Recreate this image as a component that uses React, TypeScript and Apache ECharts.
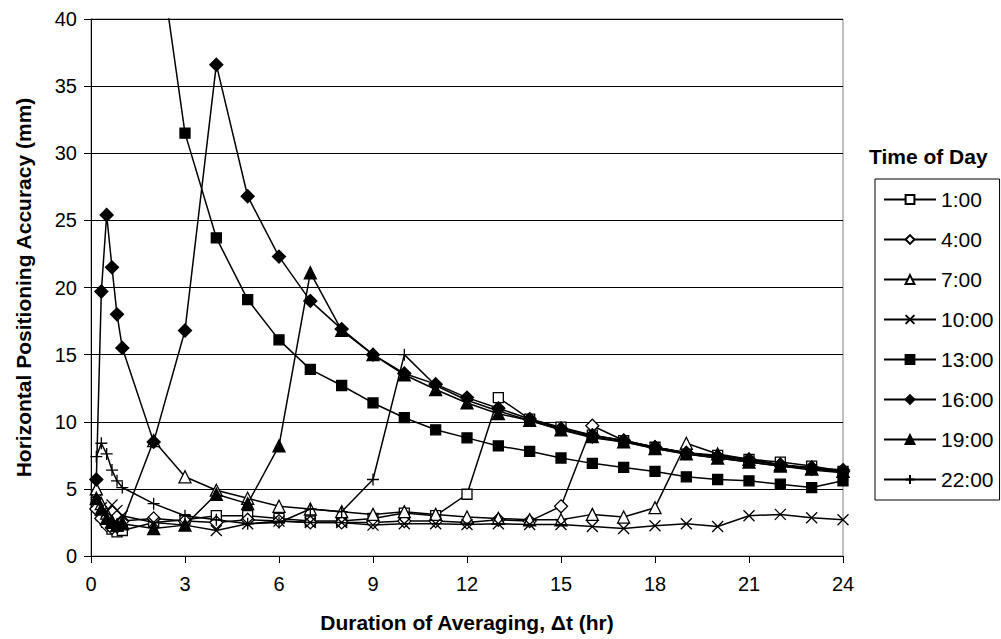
import React, { useEffect, useRef } from "react";
import * as echarts from "echarts";

const X_HOURS = [0.17, 0.33, 0.5, 0.67, 0.83, 1, 2, 3, 4, 5, 6, 7, 8, 9, 10, 11, 12, 13, 14, 15, 16, 17, 18, 19, 20, 21, 22, 23, 24];

const SERIES_NAMES = ["1:00", "4:00", "7:00", "10:00", "13:00", "16:00", "19:00", "22:00"];

const S_0100 = [4.0, 3.0, 2.5, 2.0, 1.8, 1.9, 2.5, 2.7, 3.0, 3.0, 2.8, 2.6, 2.6, 2.8, 3.2, 3.0, 4.6, 11.8, 10.2, 9.6, 9.0, 8.6, 8.1, 7.7, 7.5, 7.2, 7.0, 6.7, 6.3];
const S_0400 = [3.5, 2.8, 2.3, 2.1, 2.2, 2.6, 2.8, 2.6, 2.5, 2.7, 2.6, 2.5, 2.5, 2.5, 2.6, 2.6, 2.5, 2.7, 2.6, 3.7, 9.7, 8.6, 8.1, 7.7, 7.4, 7.1, 6.8, 6.5, 6.3];
const S_0700 = [5.0, 3.9, 3.2, 2.6, 2.3, 2.5, 8.6, 5.9, 4.9, 4.3, 3.7, 3.5, 3.3, 3.1, 3.3, 3.1, 2.9, 2.8, 2.7, 2.7, 3.1, 2.9, 3.6, 8.4, 7.6, 7.2, 6.8, 6.5, 6.3];
const S_1000 = [4.2, 3.6, 3.3, 3.8, 3.4, 3.0, 2.5, 2.3, 1.9, 2.4, 2.6, 2.5, 2.5, 2.3, 2.4, 2.4, 2.35, 2.4, 2.35, 2.35, 2.2, 2.05, 2.25, 2.4, 2.2, 3.0, 3.1, 2.85, 2.7];
const S_1300 = [null, null, null, null, null, null, 48, 31.5, 23.7, 19.1, 16.1, 13.9, 12.7, 11.4, 10.3, 9.4, 8.8, 8.2, 7.8, 7.3, 6.9, 6.6, 6.3, 5.9, 5.7, 5.6, 5.35, 5.1, 5.6];
const S_1600 = [5.7, 19.7, 25.4, 21.5, 18.0, 15.5, 8.5, 16.8, 36.6, 26.8, 22.3, 19.0, 16.9, 15.0, 13.6, 12.8, 11.8, 11.0, 10.2, 9.5, 9.0, 8.6, 8.1, 7.7, 7.4, 7.2, 6.8, 6.6, 6.4];
const S_1900 = [4.3, 3.5, 2.8, 2.5, 2.3, 2.4, 2.05, 2.3, 4.6, 3.9, 8.2, 21.1, 16.8, 15.0, 13.5, 12.4, 11.4, 10.6, 10.1, 9.4, 8.9, 8.5, 8.0, 7.6, 7.3, 7.0, 6.7, 6.5, 6.3];
const S_2200 = [7.4, 8.4, 7.6, 6.4, 5.6, 5.1, 3.9, 3.0, 2.7, 2.4, 2.5, 3.5, 3.3, 5.7, 15.0, 12.7, 11.6, 10.8, 10.1, 9.4, 8.8, 8.5, 8.0, 7.6, 7.3, 7.0, 6.7, 6.4, 6.2];

const SERIES_VALUES = [S_0100, S_0400, S_0700, S_1000, S_1300, S_1600, S_1900, S_2200];

const X_PATH = "path://M0,0L10,10M0,10L10,0";
const PLUS_PATH = "path://M5,0L5,10M0,5L10,5";

const MARKERS = [
  { symbol: "rect", size: 10, fill: "#ffffff" },
  { symbol: "diamond", size: 13, fill: "#ffffff" },
  { symbol: "triangle", size: 12, fill: "#ffffff" },
  { symbol: X_PATH, size: 11, fill: "#000000" },
  { symbol: "rect", size: 10, fill: "#000000" },
  { symbol: "diamond", size: 13, fill: "#000000" },
  { symbol: "triangle", size: 12, fill: "#000000" },
  { symbol: PLUS_PATH, size: 12, fill: "#000000" },
];

const FONT = "'Liberation Sans', Arial, sans-serif";

export default function App() {
  const ref = useRef<HTMLDivElement>(null);

  useEffect(() => {
    if (!ref.current) return;
    const chart = echarts.init(ref.current, null, { renderer: "svg" });

    const series = SERIES_NAMES.map((name, i) => {
      const vals = SERIES_VALUES[i];
      const data: [number, number][] = [];
      X_HOURS.forEach((x, j) => {
        const v = vals[j];
        if (v !== null && v !== undefined) data.push([x, v as number]);
      });
      const m = MARKERS[i];
      return {
        name,
        type: "line",
        data,
        symbol: m.symbol,
        symbolSize: m.size,
        showAllSymbol: true,
        clip: true,
        lineStyle: { color: "#000", width: 1.5 },
        itemStyle: { color: m.fill, borderColor: "#000", borderWidth: 1.3 },
        emphasis: { disabled: true },
        z: 2 + i,
      };
    });

    chart.setOption({
      animation: false,
      backgroundColor: "#fff",
      textStyle: { fontFamily: FONT },
      title: {
        text: "Time of Day",
        left: 869,
        top: 146,
        padding: 0,
        textStyle: { fontFamily: FONT, fontSize: 21, fontWeight: "bold", color: "#000" },
      },
      legend: {
        orient: "vertical",
        left: 875,
        top: 179,
        padding: [10, 6, 10, 8],
        itemGap: 19,
        itemWidth: 52,
        itemHeight: 11,
        borderColor: "#000",
        borderWidth: 1,
        textStyle: { fontFamily: FONT, fontSize: 21, color: "#000" },
        data: SERIES_NAMES,
      },
      grid: {
        left: 91,
        right: 158,
        top: 19,
        bottom: 83,
        show: true,
        borderColor: "#808080",
        borderWidth: 1,
        containLabel: false,
      },
      xAxis: {
        type: "value",
        min: 0,
        max: 24,
        interval: 3,
        name: "Duration of Averaging, \u0394t (hr)",
        nameLocation: "middle",
        nameGap: 56,
        nameTextStyle: { fontFamily: FONT, fontSize: 21, fontWeight: "bold", color: "#000" },
        axisLine: { show: true, onZero: false, lineStyle: { color: "#000", width: 1 } },
        axisTick: { show: true, inside: false, length: 7, lineStyle: { color: "#000" } },
        axisLabel: { margin: 18, fontFamily: FONT, fontSize: 20, color: "#000" },
        splitLine: { show: false },
      },
      yAxis: {
        type: "value",
        min: 0,
        max: 40,
        interval: 5,
        name: "Horizontal Positioning Accuracy (mm)",
        nameLocation: "middle",
        nameGap: 57,
        nameTextStyle: { fontFamily: FONT, fontSize: 21, fontWeight: "bold", color: "#000" },
        axisLine: { show: true, lineStyle: { color: "#000", width: 1 } },
        axisTick: { show: true, inside: false, length: 7, lineStyle: { color: "#000" } },
        axisLabel: { margin: 14, fontFamily: FONT, fontSize: 20, color: "#000" },
        splitLine: { show: true, lineStyle: { color: "#000", width: 1 } },
      },
      series,
    });

    return () => chart.dispose();
  }, []);

  return <div ref={ref} style={{ width: 1001, height: 639, position: "absolute", left: 0, top: 0 }} />;
}
